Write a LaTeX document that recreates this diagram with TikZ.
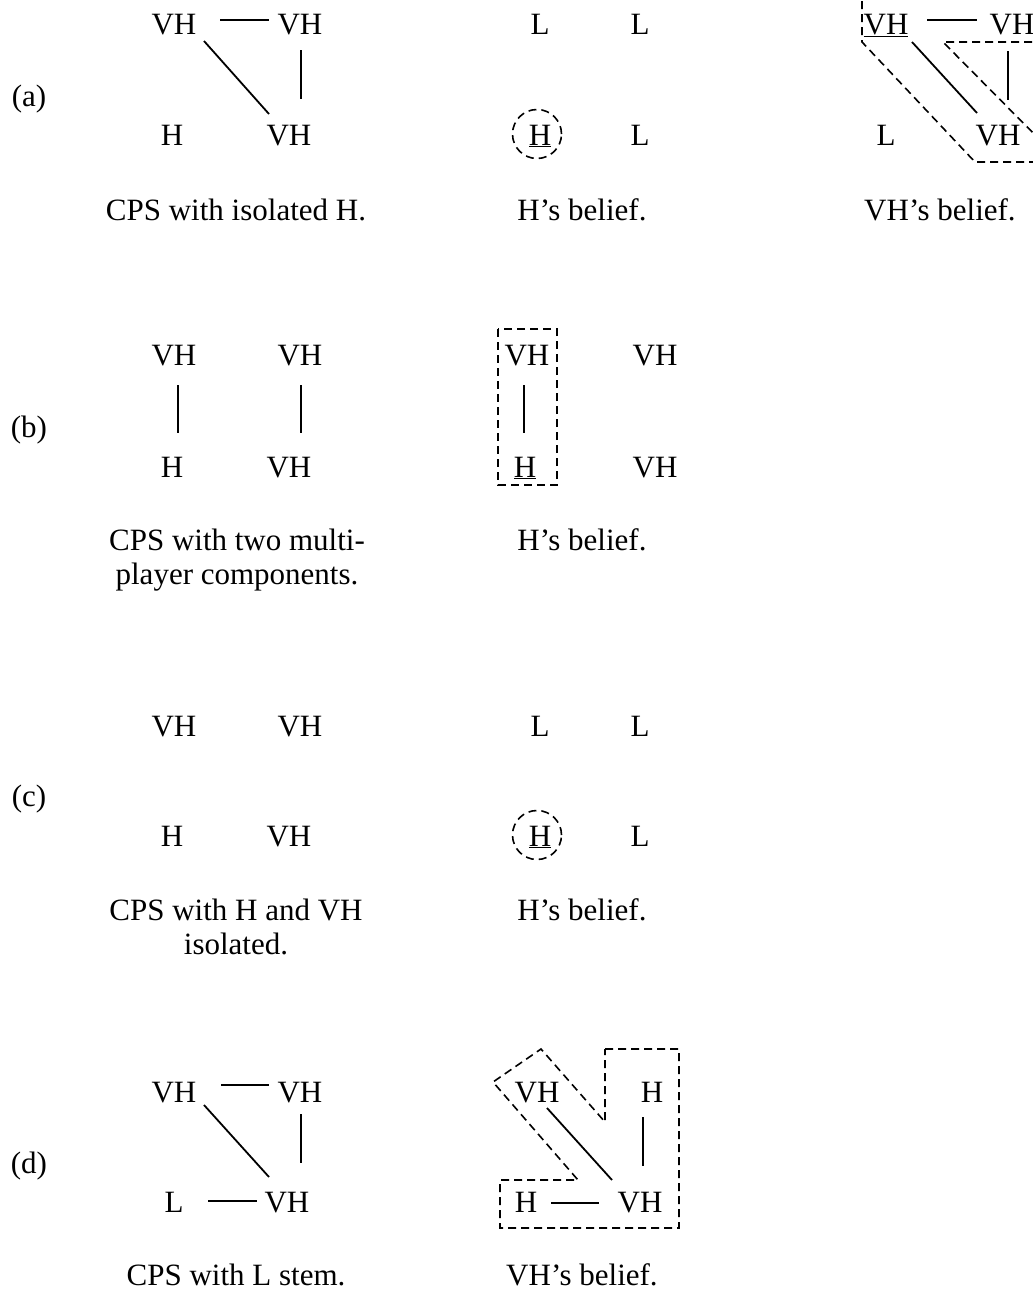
\documentclass[tikz,border=0pt]{standalone}
\usepackage{fontspec}
\setmainfont{Liberation Serif}
\begin{document}
\begin{tikzpicture}[x=1pt,y=-1pt,
  lbl/.style={font=\fontsize{31}{34}\selectfont, inner sep=0pt, anchor=base},
  capline/.style={font=\fontsize{31}{34}\selectfont, inner sep=0pt, align=center, anchor=north},
  edge/.style={line width=1.8pt},
  belief/.style={line width=1.6pt, dash pattern=on 8pt off 5pt}]
\useasboundingbox (0,0) rectangle (1033,1291);
\clip (0,0) rectangle (1033,1291);

% row labels
\node[lbl] (la) at (29,106) {(a)};
\node[lbl] (lb) at (29,437) {(b)};
\node[lbl] (lc) at (29,806) {(c)};
\node[lbl] (ld) at (29,1173) {(d)};

% ---------- (a) CPS with isolated H ----------
\node[lbl] (a1) at (174,34) {VH};
\node[lbl] (a2) at (300,34) {VH};
\node[lbl] (a3) at (172,145) {H};
\node[lbl] (a4) at (289,145) {VH};
\draw[edge] ([shift={(46,-14)}]a1.base) -- ([shift={(-31,-14)}]a2.base);
\draw[edge] ([shift={(1,16)}]a2.base) -- ([shift={(12,-46)}]a4.base);
\draw[edge] ([shift={(30,7)}]a1.base) -- ([shift={(-20,-31)}]a4.base);
\node[lbl] (capa1) at (236,220) {CPS with isolated H.};

% H's belief
\node[lbl] (b1) at (540,34) {L};
\node[lbl] (b2) at (640,34) {L};
\node[lbl] (b3) at (540,145) {\underline{H}};
\node[lbl] (b4) at (640,145) {L};
\draw[belief] ([shift={(-3,-11)}]b3.base) circle (24.5pt);
\node[lbl] (capa2) at (582,220) {H’s belief.};

% VH's belief
\node[lbl] (c1) at (886,34) {\underline{VH}};
\node[lbl] (c2) at (1012,34) {VH};
\node[lbl] (c3) at (886,145) {L};
\node[lbl] (c4) at (998,145) {VH};
\draw[edge] ([shift={(41,-14)}]c1.base) -- ([shift={(-35,-14)}]c2.base);
\draw[edge] ([shift={(-4,17)}]c2.base) -- ([shift={(10,-45)}]c4.base);
\draw[edge] ([shift={(26,8)}]c1.base) -- ([shift={(-21,-32)}]c4.base);
\draw[belief] (862,-12) -- (862,42) -- (975,162) -- (1045,162);
\draw[belief] (1045,42) -- (943,42) -- (1045,145);
\node[lbl] (capa3) at (940,220) {VH’s belief.};

% ---------- (b) CPS with two multi-player components ----------
\node[lbl] (d1) at (174,365) {VH};
\node[lbl] (d2) at (300,365) {VH};
\node[lbl] (d3) at (172,477) {H};
\node[lbl] (d4) at (289,477) {VH};
\draw[edge] ([shift={(4,20)}]d1.base) -- ([shift={(6,-44)}]d3.base);
\draw[edge] ([shift={(1,20)}]d2.base) -- ([shift={(12,-44)}]d4.base);
\node[capline] (capb1) at (237,529) {CPS with two multi-\\player components.};

% H's belief
\node[lbl] (e1) at (527,365) {VH};
\node[lbl] (e2) at (655,365) {VH};
\node[lbl] (e3) at (525,477) {\underline{H}};
\node[lbl] (e4) at (655,477) {VH};
\draw[edge] ([shift={(-3,20)}]e1.base) -- ([shift={(-1,-44)}]e3.base);
\draw[belief] ([shift={(-29,-36)}]e1.base) rectangle ([shift={(32,8)}]e3.base);
\node[lbl] (capb2) at (582,550) {H’s belief.};

% ---------- (c) CPS with H and VH isolated ----------
\node[lbl] (f1) at (174,736) {VH};
\node[lbl] (f2) at (300,736) {VH};
\node[lbl] (f3) at (172,846) {H};
\node[lbl] (f4) at (289,846) {VH};
\node[capline] (capc1) at (236,899) {CPS with H and VH\\isolated.};

% H's belief
\node[lbl] (g1) at (540,736) {L};
\node[lbl] (g2) at (640,736) {L};
\node[lbl] (g3) at (540,846) {\underline{H}};
\node[lbl] (g4) at (640,846) {L};
\draw[belief] ([shift={(-3,-11)}]g3.base) circle (24.5pt);
\node[lbl] (capc2) at (582,920) {H’s belief.};

% ---------- (d) CPS with L stem ----------
\node[lbl] (h1) at (174,1102) {VH};
\node[lbl] (h2) at (300,1102) {VH};
\node[lbl] (h3) at (174,1212) {L};
\node[lbl] (h4) at (287,1212) {VH};
\draw[edge] ([shift={(47,-17)}]h1.base) -- ([shift={(-31,-17)}]h2.base);
\draw[edge] ([shift={(1,12)}]h2.base) -- ([shift={(14,-49)}]h4.base);
\draw[edge] ([shift={(30,3)}]h1.base) -- ([shift={(-18,-35)}]h4.base);
\draw[edge] ([shift={(34,-11)}]h3.base) -- ([shift={(-30,-11)}]h4.base);
\node[lbl] (capd1) at (236,1285) {CPS with L stem.};

% VH's belief
\node[lbl] (i1) at (537,1102) {VH};
\node[lbl] (i2) at (652,1102) {H};
\node[lbl] (i3) at (526,1212) {H};
\node[lbl] (i4) at (640,1212) {VH};
\draw[edge] ([shift={(-9,15)}]i2.base) -- ([shift={(3,-46)}]i4.base);
\draw[edge] ([shift={(10,6)}]i1.base) -- ([shift={(-28,-32)}]i4.base);
\draw[edge] ([shift={(25,-9)}]i3.base) -- ([shift={(-41,-9)}]i4.base);
\draw[belief] (605,1049) -- (679,1049) -- (679,1228) -- (500,1228) -- (500,1180)
  -- (578,1180) -- (493,1082) -- (541,1049) -- (605,1122) -- cycle;
\node[lbl] (capd2) at (582,1285) {VH’s belief.};
\end{tikzpicture}
\end{document}
